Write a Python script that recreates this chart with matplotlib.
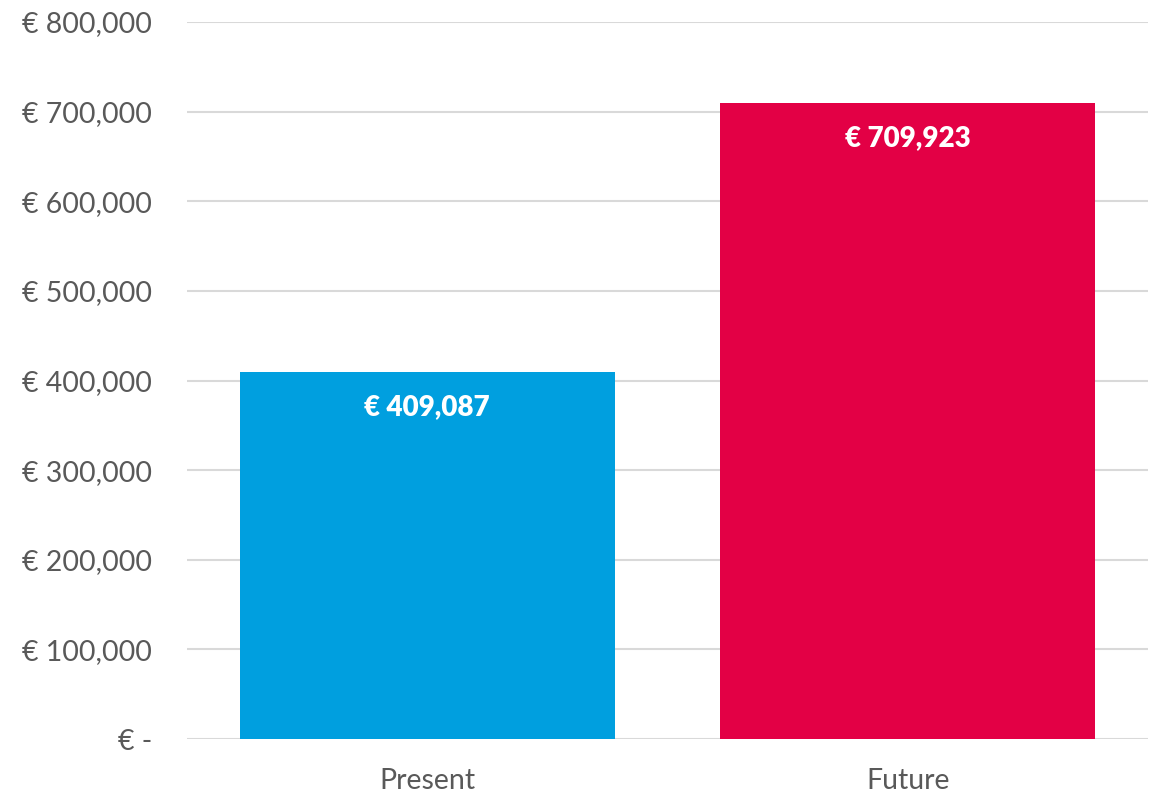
import matplotlib.pyplot as plt
from matplotlib.ticker import FuncFormatter

categories = ['Present', 'Future']
values = [409087, 709923]
colors = ['#009FDF', '#E30045']
yticks = [0, 100000, 200000, 300000, 400000, 500000, 600000, 700000, 800000]

plt.rcParams['font.family'] = ['Lato', 'DejaVu Sans']

fig = plt.figure(figsize=(11.6, 7.93), dpi=100)
ax = fig.add_axes([187 / 1160, 1 - 739 / 793, 961 / 1160, 717 / 793])

x = range(len(categories))
bars = ax.bar(x, values, width=0.78, color=colors, zorder=3)

for b, v in zip(bars, values):
    ax.annotate('€ {:,}'.format(v), (b.get_x() + b.get_width() / 2, v),
                xytext=(0, -35), textcoords='offset pixels',
                ha='center', va='center', color='white',
                fontsize=20, fontweight='heavy', zorder=4)

ax.set_xlim(-0.5, 1.5)
ax.set_ylim(0, 800000)
ax.set_yticks(yticks)
ax.yaxis.set_major_formatter(FuncFormatter(
    lambda v, p: '€ -' if v == 0 else '€ {:,.0f}'.format(v)))
ax.set_xticks(list(x))
ax.set_xticklabels(categories)

ax.grid(axis='y', color='#d9d9d9', linewidth=1.5, zorder=0)
for s in ax.spines.values():
    s.set_visible(False)
ax.tick_params(axis='both', length=0, labelsize=20.5, colors='#595959')
ax.tick_params(axis='y', pad=25)
ax.tick_params(axis='x', pad=21)

plt.savefig('out.png', dpi=100)
